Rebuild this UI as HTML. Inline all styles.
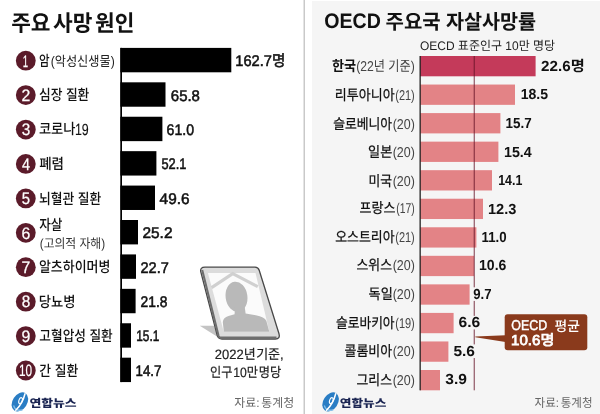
<!DOCTYPE html>
<html lang="ko"><head><meta charset="utf-8"><title>주요 사망 원인 · OECD 주요국 자살사망률</title>
<style>html,body{margin:0;padding:0;background:#fff}body{width:600px;height:414px;overflow:hidden}svg{display:block}text{font-family:"Liberation Sans", "Noto Sans CJK KR", sans-serif;text-rendering:geometricPrecision}</style></head><body>
<svg width="600" height="414" viewBox="0 0 600 414">
<rect width="600" height="414" fill="#fff"/>
<rect x="303.6" y="0" width="1.2" height="414" fill="#bcbcbc"/>
<rect x="312" y="1" width="288" height="413" fill="#f5f5f5"/>
<text transform="translate(11.14,31.00) scale(0.9594,1)" font-size="22.3" font-weight="700" word-spacing="-3.5" fill="#111">주요 사망 원인</text>
<rect x="120.4" y="47.90" width="110.9" height="24.4" fill="#000"/>
<circle cx="25.8" cy="60.70" r="9.9" fill="#5b1b2a"/>
<text transform="translate(22.68,67.00) scale(0.5793,1)" font-size="16.6" font-weight="400" fill="#fff" stroke="#fff" stroke-width="0.25">1</text>
<text transform="translate(39.11,66.00) scale(0.7837,1)" font-size="14.7" font-weight="500" fill="#111">암</text>
<text transform="translate(50.63,66.00) scale(0.8894,1)" font-size="13.7" font-weight="400" fill="#222">(악성신생물)</text>
<text transform="translate(235.35,66.00) scale(0.9500,1)" font-size="15.4" font-weight="400" fill="#111" stroke="#111" stroke-width="0.55">162.7명</text>
<rect x="120.4" y="82.32" width="45.1" height="24.4" fill="#000"/>
<circle cx="25.8" cy="95.12" r="9.9" fill="#5b1b2a"/>
<text transform="translate(21.48,101.00) scale(0.9548,1)" font-size="16.6" font-weight="400" fill="#fff" stroke="#fff" stroke-width="0.25">2</text>
<text transform="translate(38.95,100.00) scale(0.8667,1)" font-size="14.7" font-weight="500" fill="#111">심장 질환</text>
<text transform="translate(170.81,101.00) scale(0.9724,1)" font-size="15.4" font-weight="400" fill="#111" stroke="#111" stroke-width="0.55">65.8</text>
<rect x="120.4" y="116.74" width="42.0" height="24.4" fill="#000"/>
<circle cx="25.8" cy="129.54" r="9.9" fill="#5b1b2a"/>
<text transform="translate(21.74,135.00) scale(0.9250,1)" font-size="16.6" font-weight="400" fill="#fff" stroke="#fff" stroke-width="0.25">3</text>
<text transform="translate(38.92,134.00) scale(0.9019,1)" font-size="14.7" font-weight="500" fill="#111">코로나</text>
<text transform="translate(74.94,135.00) scale(0.7687,1)" font-size="16.2" font-weight="400" fill="#111" stroke="#111" stroke-width="0.1">19</text>
<text transform="translate(166.54,135.00) scale(0.9172,1)" font-size="15.4" font-weight="400" fill="#111" stroke="#111" stroke-width="0.55">61.0</text>
<rect x="120.4" y="151.16" width="36.0" height="24.4" fill="#000"/>
<circle cx="25.8" cy="163.96" r="9.9" fill="#5b1b2a"/>
<text transform="translate(21.98,170.00) scale(0.8706,1)" font-size="16.6" font-weight="400" fill="#fff" stroke="#fff" stroke-width="0.25">4</text>
<text transform="translate(39.14,169.00) scale(0.9212,1)" font-size="14.7" font-weight="500" fill="#111">폐렴</text>
<text transform="translate(161.39,169.00) scale(0.8342,1)" font-size="15.4" font-weight="400" fill="#111" stroke="#111" stroke-width="0.55">52.1</text>
<rect x="120.4" y="185.58" width="34.6" height="24.4" fill="#000"/>
<circle cx="25.8" cy="198.38" r="9.9" fill="#5b1b2a"/>
<text transform="translate(21.75,204.00) scale(0.8970,1)" font-size="16.6" font-weight="400" fill="#fff" stroke="#fff" stroke-width="0.25">5</text>
<text transform="translate(38.95,204.00) scale(0.8709,1)" font-size="14.7" font-weight="500" fill="#111">뇌혈관 질환</text>
<text transform="translate(159.60,204.00) scale(0.9966,1)" font-size="15.4" font-weight="400" fill="#111" stroke="#111" stroke-width="0.55">49.6</text>
<rect x="120.4" y="220.00" width="17.6" height="24.4" fill="#000"/>
<circle cx="25.8" cy="232.80" r="9.9" fill="#5b1b2a"/>
<text transform="translate(21.48,239.00) scale(0.9548,1)" font-size="16.6" font-weight="400" fill="#fff" stroke="#fff" stroke-width="0.25">6</text>
<text transform="translate(39.17,230.00) scale(0.8615,1)" font-size="14.7" font-weight="500" fill="#111">자살</text>
<text transform="translate(39.72,248.00) scale(0.9078,1)" font-size="13.0" font-weight="400" fill="#333">(고의적 자해)</text>
<text transform="translate(142.50,238.00) scale(1.0000,1)" font-size="15.4" font-weight="400" fill="#111" stroke="#111" stroke-width="0.55">25.2</text>
<rect x="120.4" y="254.42" width="15.6" height="24.4" fill="#000"/>
<circle cx="25.8" cy="267.22" r="9.9" fill="#5b1b2a"/>
<text transform="translate(21.48,273.00) scale(0.9548,1)" font-size="16.6" font-weight="400" fill="#fff" stroke="#fff" stroke-width="0.25">7</text>
<text transform="translate(38.94,272.00) scale(0.8813,1)" font-size="14.7" font-weight="500" fill="#111">알츠하이머병</text>
<text transform="translate(140.53,273.00) scale(0.9448,1)" font-size="15.4" font-weight="400" fill="#111" stroke="#111" stroke-width="0.55">22.7</text>
<rect x="120.4" y="288.84" width="15.2" height="24.4" fill="#000"/>
<circle cx="25.8" cy="301.64" r="9.9" fill="#5b1b2a"/>
<text transform="translate(21.74,307.00) scale(0.9250,1)" font-size="16.6" font-weight="400" fill="#fff" stroke="#fff" stroke-width="0.25">8</text>
<text transform="translate(38.87,307.00) scale(0.9067,1)" font-size="14.7" font-weight="500" fill="#111">당뇨병</text>
<text transform="translate(140.55,307.00) scale(0.8966,1)" font-size="15.4" font-weight="400" fill="#111" stroke="#111" stroke-width="0.55">21.8</text>
<rect x="120.4" y="323.26" width="10.6" height="24.4" fill="#000"/>
<circle cx="25.8" cy="336.06" r="9.9" fill="#5b1b2a"/>
<text transform="translate(21.48,342.00) scale(0.9548,1)" font-size="16.6" font-weight="400" fill="#fff" stroke="#fff" stroke-width="0.25">9</text>
<text transform="translate(39.35,341.00) scale(0.8619,1)" font-size="14.7" font-weight="500" fill="#111">고혈압성 질환</text>
<text transform="translate(136.23,341.00) scale(0.7719,1)" font-size="15.4" font-weight="400" fill="#111" stroke="#111" stroke-width="0.55">15.1</text>
<rect x="120.4" y="357.68" width="10.6" height="24.4" fill="#000"/>
<circle cx="25.8" cy="370.48" r="9.9" fill="#5b1b2a"/>
<text transform="translate(18.90,376.00) scale(0.7212,1)" font-size="16.4" font-weight="400" fill="#fff" stroke="#fff" stroke-width="0.2">10</text>
<text transform="translate(39.34,376.00) scale(0.8736,1)" font-size="14.7" font-weight="500" fill="#111">간 질환</text>
<text transform="translate(135.54,376.00) scale(0.8632,1)" font-size="15.4" font-weight="400" fill="#111" stroke="#111" stroke-width="0.55">14.7</text>
<rect x="120.3" y="47.9" width="1.7" height="334.18" fill="#000"/>
<path d="M199.8 325.8 H214 L218.5 337.5 Z" fill="#c4c4c4"/>
<path d="M205 267.2 H255 Q258.2 267.2 259.2 270.3 L279 333.8 Q280.4 339 275.4 339 H222 Q218.2 339 217.2 335.4 L200.8 271.9 Q199.8 267.2 205 267.2 Z" fill="#dcdcdc" stroke="#484848" stroke-width="1.3" stroke-linejoin="round"/>
<path d="M202.2 270 L218.6 336 Q219.2 337.6 221.2 337.6 H276.5" fill="none" stroke="#6e6e6e" stroke-width="2.1"/>
<path d="M207.9 272.9 H255.5 L269.3 331.7 H223.8 Z" fill="#fbfbfb"/>
<path d="M211.6 287.6 L232.7 273.6 L257.8 286.6" fill="none" stroke="#d0d0d0" stroke-width="3.1" stroke-linejoin="miter"/>
<ellipse cx="236.5" cy="296.8" rx="10.9" ry="15.2" transform="rotate(-8 236.5 296.8)" fill="#b9b9b9"/>
<path d="M223.8 331.7 L222.8 322 Q223.2 317.6 228.5 316 L234.6 314.2 L235 306 H244.6 L245.6 313.6 L255.8 315.2 Q264.5 316.8 266.4 321 L269.3 331.7 Z" fill="#b9b9b9"/>
<text transform="translate(214.72,359.00) scale(0.9560,1)" font-size="13.6" font-weight="400" word-spacing="-3.2" fill="#222" stroke="#222" stroke-width="0.2">2022년 기준,</text>
<text transform="translate(210.03,377.00) scale(0.8987,1)" font-size="13.6" font-weight="400" word-spacing="-3.0" fill="#222" stroke="#222" stroke-width="0.2">인구 10만 명당</text>
<g transform="translate(0.0,0)">
<ellipse cx="19.9" cy="401.9" rx="7.3" ry="10.3" transform="rotate(33 19.9 401.9)" fill="#2a7dc4"/>
<path d="M13.6 405.5 Q15.5 411.8 22.5 409.8" fill="none" stroke="#86c0e8" stroke-width="1.3"/>
<path d="M25 393.8 Q22.5 404 15.8 410.2" fill="none" stroke="#fff" stroke-width="1.5" stroke-linecap="round"/>
<ellipse cx="20.6" cy="400.6" rx="1.7" ry="3.1" transform="rotate(18 20.6 400.6)" fill="none" stroke="#fff" stroke-width="1.1"/>
</g>
<text transform="translate(29.42,407.00) scale(1.1646,1)" font-size="11.0" font-weight="900" fill="#1b2552">연합뉴스</text>
<text transform="translate(234.31,407.00) scale(0.9755,1)" font-size="12.2" font-weight="400" word-spacing="-1.5" fill="#666">자료: 통계청</text>
<text transform="translate(324.30,28.00) scale(0.9322,1)" font-size="21" font-weight="700" fill="#111">OECD</text>
<text transform="translate(385.56,29.00) scale(0.9853,1)" font-size="20.3" font-weight="700" fill="#111">주요국</text>
<text transform="translate(445.92,29.00) scale(0.9674,1)" font-size="20.3" font-weight="700" fill="#111">자살사망률</text>
<text transform="translate(419.92,50.00) scale(0.9672,1)" font-size="12.4" font-weight="400" fill="#222">OECD 표준인구 10만 명당</text>
<rect x="420.0" y="56.00" width="115.6" height="20.3" fill="#c43a5a"/>
<text transform="translate(331.95,71.00) scale(0.9098,1)" font-size="14.4" font-weight="700" fill="#111">한국</text>
<text transform="translate(356.14,71.00) scale(0.8571,1)" font-size="14.2" font-weight="400" fill="#444">(22년 기준)</text>
<rect x="420.0" y="84.55" width="95.0" height="20.3" fill="#e38386"/>
<text transform="translate(334.87,100.00) scale(0.9019,1)" font-size="14.4" font-weight="400" fill="#111" stroke="#111" stroke-width="0.25">리투아니아</text>
<text transform="translate(395.23,100.00) scale(0.7742,1)" font-size="14.2" font-weight="400" fill="#444">(21)</text>
<rect x="420.0" y="113.09" width="80.4" height="20.3" fill="#e38386"/>
<text transform="translate(333.15,129.00) scale(0.8916,1)" font-size="14.4" font-weight="400" fill="#111" stroke="#111" stroke-width="0.25">슬로베니아</text>
<text transform="translate(392.72,129.00) scale(0.8774,1)" font-size="14.2" font-weight="400" fill="#444">(20)</text>
<rect x="420.0" y="141.63" width="78.4" height="20.3" fill="#e38386"/>
<text transform="translate(368.09,157.00) scale(0.9131,1)" font-size="14.4" font-weight="400" fill="#111" stroke="#111" stroke-width="0.25">일본</text>
<text transform="translate(392.72,157.00) scale(0.8774,1)" font-size="14.2" font-weight="400" fill="#444">(20)</text>
<rect x="420.0" y="170.18" width="72.0" height="20.3" fill="#e38386"/>
<text transform="translate(368.49,186.00) scale(0.8889,1)" font-size="14.4" font-weight="400" fill="#111" stroke="#111" stroke-width="0.25">미국</text>
<text transform="translate(392.72,186.00) scale(0.8774,1)" font-size="14.2" font-weight="400" fill="#444">(20)</text>
<rect x="420.0" y="198.73" width="63.0" height="20.3" fill="#e38386"/>
<text transform="translate(359.55,213.00) scale(0.9032,1)" font-size="14.4" font-weight="400" fill="#111" stroke="#111" stroke-width="0.25">프랑스</text>
<text transform="translate(396.27,213.00) scale(0.7312,1)" font-size="14.2" font-weight="400" fill="#444">(17)</text>
<rect x="420.0" y="227.27" width="56.4" height="20.3" fill="#e38386"/>
<text transform="translate(335.15,242.00) scale(0.8977,1)" font-size="14.4" font-weight="400" fill="#111" stroke="#111" stroke-width="0.25">오스트리아</text>
<text transform="translate(395.23,242.00) scale(0.7742,1)" font-size="14.2" font-weight="400" fill="#444">(21)</text>
<rect x="420.0" y="255.81" width="54.0" height="20.3" fill="#e38386"/>
<text transform="translate(356.55,270.00) scale(0.8929,1)" font-size="14.4" font-weight="400" fill="#111" stroke="#111" stroke-width="0.25">스위스</text>
<text transform="translate(392.72,270.00) scale(0.8774,1)" font-size="14.2" font-weight="400" fill="#444">(20)</text>
<rect x="420.0" y="284.36" width="49.6" height="20.3" fill="#e38386"/>
<text transform="translate(368.54,299.00) scale(0.9131,1)" font-size="14.4" font-weight="400" fill="#111" stroke="#111" stroke-width="0.25">독일</text>
<text transform="translate(392.72,299.00) scale(0.8774,1)" font-size="14.2" font-weight="400" fill="#444">(20)</text>
<rect x="420.0" y="312.91" width="33.6" height="20.3" fill="#e38386"/>
<text transform="translate(335.96,328.00) scale(0.8855,1)" font-size="14.4" font-weight="400" fill="#111" stroke="#111" stroke-width="0.25">슬로바키아</text>
<text transform="translate(395.23,328.00) scale(0.7742,1)" font-size="14.2" font-weight="400" fill="#444">(19)</text>
<rect x="420.0" y="341.45" width="28.4" height="20.3" fill="#e38386"/>
<text transform="translate(344.55,356.00) scale(0.8995,1)" font-size="14.4" font-weight="400" fill="#111" stroke="#111" stroke-width="0.25">콜롬비아</text>
<text transform="translate(392.72,356.00) scale(0.8774,1)" font-size="14.2" font-weight="400" fill="#444">(20)</text>
<rect x="420.0" y="370.00" width="20.0" height="20.3" fill="#e38386"/>
<text transform="translate(356.55,385.00) scale(0.8929,1)" font-size="14.4" font-weight="400" fill="#111" stroke="#111" stroke-width="0.25">그리스</text>
<text transform="translate(392.72,385.00) scale(0.8774,1)" font-size="14.2" font-weight="400" fill="#444">(20)</text>
<rect x="419.5" y="56" width="1.3" height="334.30" fill="#222"/>
<rect x="473.7" y="56" width="1.1" height="334.30" fill="rgb(100,18,38)" fill-opacity="0.75"/>
<text transform="translate(541.08,71.00) scale(1.0415,1)" font-size="14.6" font-weight="700" fill="#111" stroke="#f5f5f5" stroke-width="2.2" stroke-linejoin="round" paint-order="stroke">22.6명</text>
<text transform="translate(520.64,99.00) scale(0.9630,1)" font-size="14.6" font-weight="700" fill="#111" stroke="#f5f5f5" stroke-width="2.2" stroke-linejoin="round" paint-order="stroke">18.5</text>
<text transform="translate(505.48,128.00) scale(0.9196,1)" font-size="14.6" font-weight="700" fill="#111" stroke="#f5f5f5" stroke-width="2.2" stroke-linejoin="round" paint-order="stroke">15.7</text>
<text transform="translate(504.02,157.00) scale(0.9761,1)" font-size="14.6" font-weight="700" fill="#111" stroke="#f5f5f5" stroke-width="2.2" stroke-linejoin="round" paint-order="stroke">15.4</text>
<text transform="translate(498.15,185.00) scale(0.8519,1)" font-size="14.6" font-weight="700" fill="#111" stroke="#f5f5f5" stroke-width="2.2" stroke-linejoin="round" paint-order="stroke">14.1</text>
<text transform="translate(488.00,214.00) scale(1.0000,1)" font-size="14.6" font-weight="700" fill="#111" stroke="#f5f5f5" stroke-width="2.2" stroke-linejoin="round" paint-order="stroke">12.3</text>
<text transform="translate(481.49,242.00) scale(0.9077,1)" font-size="14.6" font-weight="700" fill="#111" stroke="#f5f5f5" stroke-width="2.2" stroke-linejoin="round" paint-order="stroke">11.0</text>
<text transform="translate(479.04,270.00) scale(0.9630,1)" font-size="14.6" font-weight="700" fill="#111" stroke="#f5f5f5" stroke-width="2.2" stroke-linejoin="round" paint-order="stroke">10.6</text>
<rect x="472.8" y="287.31" width="3" height="13.6" fill="#f5f5f5"/>
<text transform="translate(473.15,299.00) scale(0.9039,1)" font-size="14.6" font-weight="700" fill="#111" stroke="#f5f5f5" stroke-width="2.2" stroke-linejoin="round" paint-order="stroke">9.7</text>
<rect x="472.8" y="315.86" width="3" height="13.6" fill="#f5f5f5"/>
<text transform="translate(458.46,327.00) scale(1.0701,1)" font-size="14.6" font-weight="700" fill="#111" stroke="#f5f5f5" stroke-width="2.2" stroke-linejoin="round" paint-order="stroke">6.6</text>
<rect x="472.8" y="344.40" width="3" height="13.6" fill="#f5f5f5"/>
<text transform="translate(453.47,356.00) scale(1.0597,1)" font-size="14.6" font-weight="700" fill="#111" stroke="#f5f5f5" stroke-width="2.2" stroke-linejoin="round" paint-order="stroke">5.6</text>
<text transform="translate(445.33,384.00) scale(1.0667,1)" font-size="14.6" font-weight="700" fill="#111" stroke="#f5f5f5" stroke-width="2.2" stroke-linejoin="round" paint-order="stroke">3.9</text>
<path d="M505.5 335.2 L475.3 336.6 L475.3 337.3 L505.5 342 Z" fill="#8a3a1c"/>
<rect x="504.7" y="314.3" width="82.6" height="35.9" rx="3" fill="#8a3a1c"/>
<text transform="translate(511.36,330.00) scale(0.8750,1)" font-size="14.2" font-weight="400" fill="#fff" stroke="#fff" stroke-width="0.45">OECD</text>
<text transform="translate(554.45,331.00) scale(1.0042,1)" font-size="13.8" font-weight="500" fill="#fff">평균</text>
<text transform="translate(511.01,345.00) scale(1.0487,1)" font-size="14.4" font-weight="400" fill="#fff" stroke="#fff" stroke-width="0.75">10.6명</text>
<g transform="translate(310.7,0)">
<ellipse cx="19.9" cy="401.9" rx="7.3" ry="10.3" transform="rotate(33 19.9 401.9)" fill="#2a7dc4"/>
<path d="M13.6 405.5 Q15.5 411.8 22.5 409.8" fill="none" stroke="#86c0e8" stroke-width="1.3"/>
<path d="M25 393.8 Q22.5 404 15.8 410.2" fill="none" stroke="#fff" stroke-width="1.5" stroke-linecap="round"/>
<ellipse cx="20.6" cy="400.6" rx="1.7" ry="3.1" transform="rotate(18 20.6 400.6)" fill="none" stroke="#fff" stroke-width="1.1"/>
</g>
<text transform="translate(339.83,407.00) scale(1.1494,1)" font-size="11.0" font-weight="900" fill="#1b2552">연합뉴스</text>
<text transform="translate(534.53,407.00) scale(0.9451,1)" font-size="12.2" font-weight="400" word-spacing="-1.5" fill="#666">자료: 통계청</text>
</svg></body></html>
